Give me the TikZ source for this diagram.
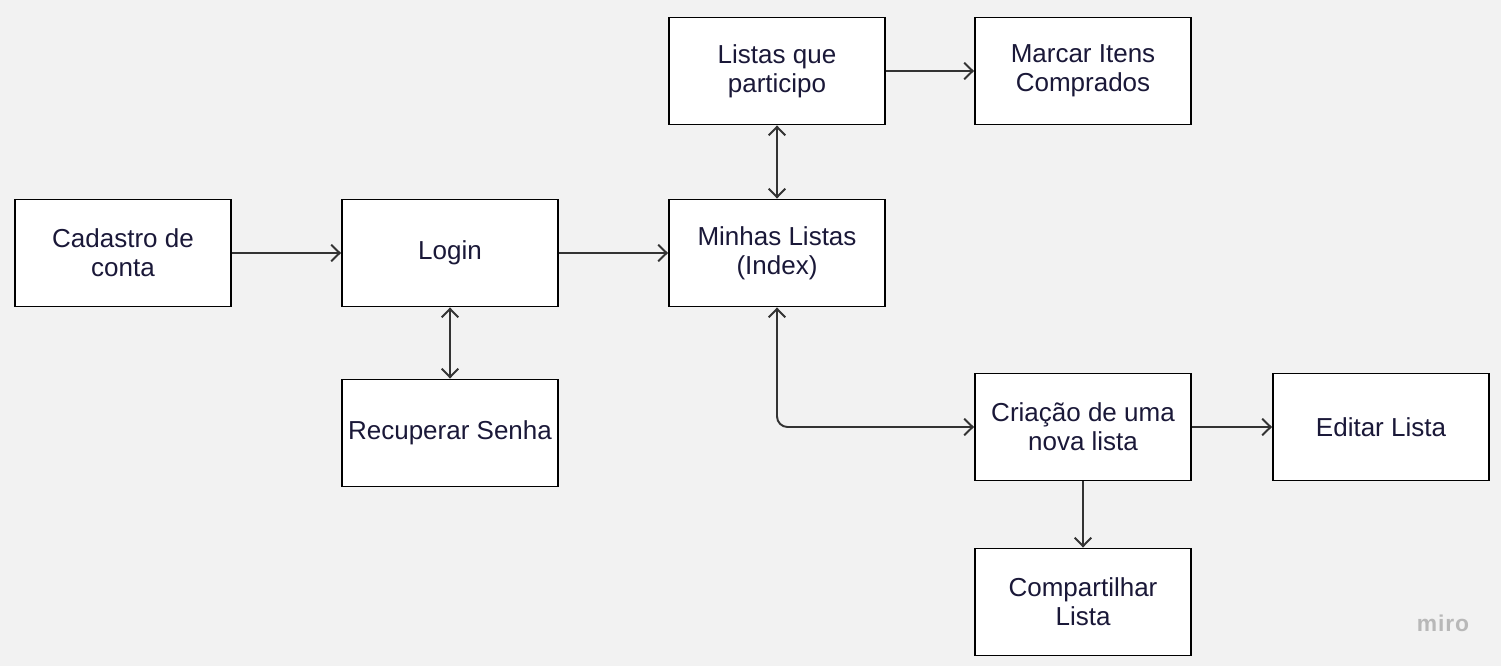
\documentclass[tikz,border=0pt]{standalone}
\usepackage{fontspec}
\setmainfont{Liberation Sans}
\usetikzlibrary{arrows.meta}
\definecolor{bg}{HTML}{F2F2F2}
\definecolor{ink}{HTML}{1A1838}
\definecolor{wire}{HTML}{333333}
\tikzset{
  tela/.style={draw=black, fill=white, line width=1.1pt, minimum width=4.32cm,
    minimum height=2.14cm, align=center, text=ink, font=\fontsize{14.8}{16.5}\selectfont},
  liga/.style={draw=wire, line width=1.1pt, -{Straight Barb[length=1.7mm,width=3.3mm]}},
  ligadupla/.style={liga, {Straight Barb[length=1.7mm,width=3.3mm]}-{Straight Barb[length=1.7mm,width=3.3mm]}}
}
\begin{document}
\begin{tikzpicture}[x=0.02cm, y=-0.02cm]
\fill[bg] (0,0) rectangle (1501,666);
\useasboundingbox (0,0) rectangle (1501,666);
\node [tela] (cad) at (123,253) {Cadastro de\\conta};
\node [tela] (login) at (450,253) {Login};
\node [tela] (rec) at (450,433) {Recuperar Senha};
\node [tela] (minhas) at (777,253) {Minhas Listas\\(Index)};
\node [tela] (part) at (777,71) {Listas que\\participo};
\node [tela] (marcar) at (1083,71) {Marcar Itens\\Comprados};
\node [tela] (cria) at (1083,427) {Criação de uma\\nova lista};
\node [tela] (edit) at (1381,427) {Editar Lista};
\node [tela] (comp) at (1083,602) {Compartilhar\\Lista};
\node [text=black!28, font=\fontsize{13}{15}\selectfont\bfseries] (miro) at (1443,623) {m\kern0.5pt i\kern0.5pt r\kern0.5pt o};
\draw [liga] (cad) -- (login);
\draw [liga] (login) -- (minhas);
\draw [ligadupla] (login) -- (rec);
\draw [ligadupla] (part) -- (minhas);
\draw [liga] (part) -- (marcar);
\draw [ligadupla, rounded corners=6pt] (minhas.south) |- (cria.west);
\draw [liga] (cria) -- (edit);
\draw [liga] (cria) -- (comp);
\end{tikzpicture}
\end{document}
